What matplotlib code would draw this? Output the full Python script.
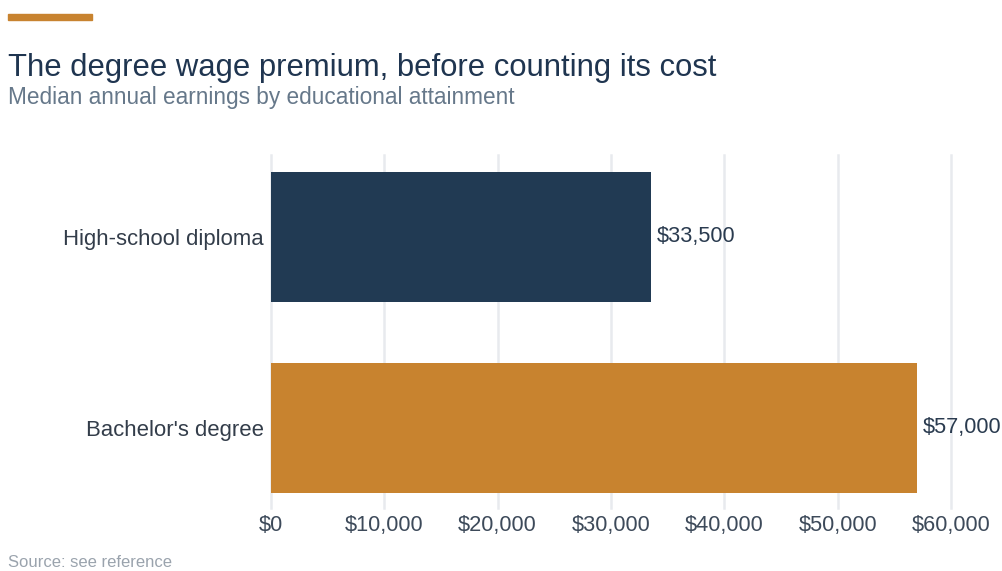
import matplotlib.pyplot as plt
from matplotlib.patches import Rectangle

categories = ["High-school diploma", "Bachelor's degree"]
earnings = [33500, 57000]
bar_colors = ["#213a53", "#c8832f"]
xticks = [0, 10000, 20000, 30000, 40000, 50000, 60000]

plt.rcParams['font.family'] = ['Liberation Sans', 'DejaVu Sans']

W, H = 1002, 571
fig = plt.figure(figsize=(W / 100, H / 100), dpi=100)
ax = fig.add_axes([271 / W, (H - 508) / H, 680 / W, 353 / H])

ypos = list(range(len(categories)))
ax.barh(ypos, earnings, height=0.68, color=bar_colors, zorder=2)
for y, v in zip(ypos, earnings):
    ax.text(v + 550, y, f"${v:,.0f}", va='center', ha='left', fontsize=15.7, color='#2a3b4f')

ax.set_xlim(0, 60000)
ax.set_ylim(1.419, -0.429)
ax.set_yticks(ypos)
ax.set_yticklabels(categories, fontsize=15.9, color='#333d4a')
ax.set_xticks(xticks)
ax.set_xticklabels([f"${t:,.0f}" for t in xticks], fontsize=15.7, color='#3d4a5a')
ax.tick_params(axis='both', length=0)
ax.tick_params(axis='x', pad=5)
ax.tick_params(axis='y', pad=5)
ax.grid(axis='x', color='#e8eaee', linewidth=1.8, zorder=0)
for gl in ax.get_xgridlines():
    gl.set_clip_on(False)
for s in ax.spines.values():
    s.set_visible(False)

# accent bar at top left
fig.patches.append(Rectangle((8 / W, 1 - 20 / H), 84 / W, 6 / H, transform=fig.transFigure,
                             color='#c8832f', figure=fig))
fig.text(8 / W, 1 - 76 / H, "The degree wage premium, before counting its cost",
         fontsize=22.3, color='#1f3550', va='baseline')
fig.text(8 / W, 1 - 104 / H, "Median annual earnings by educational attainment",
         fontsize=16.3, color='#66788a', va='baseline')
fig.text(8 / W, 1 - 567 / H, "Source: see reference", fontsize=12, color='#9aa3ad', va='baseline')

fig.savefig('out.png', dpi=100)
